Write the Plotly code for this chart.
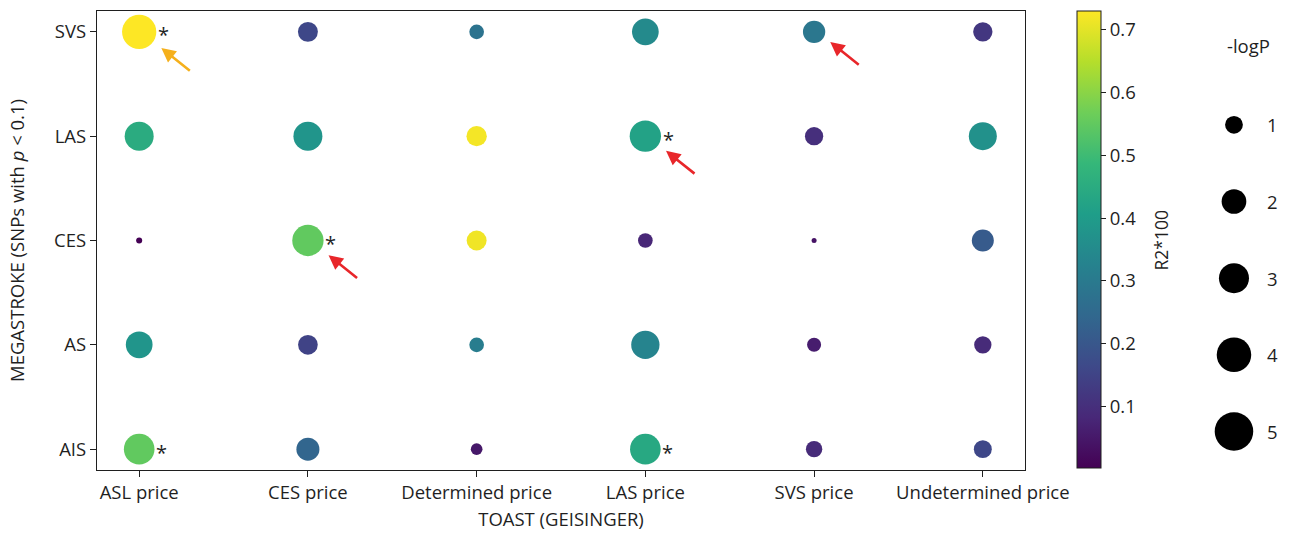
import math
import plotly.graph_objects as go

# TOAST subtypes (columns) and MEGASTROKE phenotypes (rows, top to bottom)
toast = ["ASL price", "CES price", "Determined price", "LAS price", "SVS price", "Undetermined price"]
megastroke = ["SVS", "LAS", "CES", "AS", "AIS"]

# Variance explained (R2*100), one row per MEGASTROKE phenotype
r2x100 = [
    [0.730, 0.160, 0.280, 0.350, 0.290, 0.120],  # SVS
    [0.450, 0.380, 0.720, 0.420, 0.100, 0.370],  # LAS
    [0.002, 0.550, 0.715, 0.080, 0.040, 0.210],  # CES
    [0.380, 0.150, 0.310, 0.330, 0.060, 0.090],  # AS
    [0.550, 0.240, 0.050, 0.440, 0.090, 0.160],  # AIS
]

# -log10(P) of each association
neglogp = [
    [3.94, 1.28, 0.65, 2.36, 1.62, 1.19],  # SVS
    [2.79, 2.79, 1.33, 3.27, 1.06, 2.60],  # LAS
    [0.04, 3.27, 1.28, 0.65, 0.00, 1.57],  # CES
    [2.36, 1.24, 0.65, 2.66, 0.59, 0.94],  # AS
    [3.12, 1.73, 0.38, 3.12, 0.83, 1.02],  # AIS
]

# Significant associations marked with an asterisk
significant = [
    [1, 0, 0, 0, 0, 0],
    [0, 0, 0, 1, 0, 0],
    [0, 1, 0, 0, 0, 0],
    [0, 0, 0, 0, 0, 0],
    [1, 0, 0, 1, 0, 0],
]

# Highlighted associations: (phenotype, subtype, arrow colour)
highlights = [
    ("SVS", "ASL price", "#f5b01c"),
    ("CES", "CES price", "#e8262a"),
    ("LAS", "LAS price", "#e8262a"),
    ("SVS", "SVS price", "#e8262a"),
]

size_legend_values = [1, 2, 3, 4, 5]
cbar_ticks = [0.1, 0.2, 0.3, 0.4, 0.5, 0.6, 0.7]

FONT = "Open Sans"
INK = "#1f1f1f"
TICK_SIZE = 18.5
LABEL_SIZE = 18.5

PAPER_W = 1289 - 97 - 10


def marker_diameter(v):
    # marker area grows linearly with -logP
    return math.sqrt(25 + 292 * v)


xs, ys, cs, ss = [], [], [], []
for i, row in enumerate(megastroke):
    for j, col in enumerate(toast):
        xs.append(col)
        ys.append(row)
        cs.append(r2x100[i][j])
        ss.append(marker_diameter(neglogp[i][j]))

all_r2 = [v for r in r2x100 for v in r]

fig = go.Figure()
fig.add_trace(go.Scatter(
    x=xs, y=ys, mode="markers",
    marker=dict(
        size=ss, sizemode="diameter", color=cs, opacity=1,
        colorscale="Viridis", cmin=min(all_r2), cmax=max(all_r2),
        line=dict(width=0),
        colorbar=dict(
            x=(1077 - 97) / PAPER_W, xanchor="left", xpad=0,
            y=1, yanchor="top", ypad=0,
            len=457, lenmode="pixels", thickness=24,
            outlinewidth=1, outlinecolor=INK,
            tickvals=cbar_ticks, ticks="outside", ticklen=5,
            tickcolor=INK, tickfont=dict(family=FONT, size=TICK_SIZE, color=INK),
        ),
    ),
    showlegend=False, hoverinfo="skip",
))

# Size key for -logP
key_y = [0.752 - 0.167 * k for k in range(len(size_legend_values))]
fig.add_trace(go.Scatter(
    x=[0.746] * len(size_legend_values), y=key_y, mode="markers",
    marker=dict(size=[marker_diameter(v) for v in size_legend_values],
                sizemode="diameter", color="black", opacity=1, line=dict(width=0)),
    xaxis="x2", yaxis="y2", showlegend=False, hoverinfo="skip",
))

annotations = []
for v, yy in zip(size_legend_values, key_y):
    annotations.append(dict(x=0.966, y=yy, xref="x2", yref="y2", text=str(v),
                            showarrow=False, font=dict(family=FONT, size=TICK_SIZE, color=INK)))
annotations.append(dict(x=0.83, y=0.924, xref="x2", yref="y2", text="-logP",
                        showarrow=False, font=dict(family=FONT, size=LABEL_SIZE, color=INK)))

# Colour bar title
annotations.append(dict(x=(1174 - 97) / PAPER_W, y=0.5, xref="paper", yref="paper",
                        text="R2*100", textangle=-90, showarrow=False,
                        font=dict(family=FONT, size=17.5, color=INK)))

# Asterisks for significant associations
for i, row in enumerate(megastroke):
    for j, col in enumerate(toast):
        if significant[i][j]:
            d = marker_diameter(neglogp[i][j])
            annotations.append(dict(x=col, y=row, xref="x", yref="y", text="*",
                                    showarrow=False, xanchor="center", yanchor="middle",
                                    xshift=d / 2 + 7, yshift=-3,
                                    font=dict(family=FONT, size=20, color=INK)))

# Arrows pointing at highlighted associations
for row, col, colour in highlights:
    i, j = megastroke.index(row), toast.index(col)
    d = marker_diameter(neglogp[i][j])
    annotations.append(dict(x=col, y=row, xref="x", yref="y", text="",
                            showarrow=True, arrowhead=2, arrowsize=1.1, arrowwidth=2.6,
                            arrowcolor=colour, ax=30, ay=24,
                            xshift=d / 2 + 5, yshift=-d / 2 + 1))

axis_common = dict(
    showline=True, linecolor=INK, linewidth=1.3, mirror=True,
    ticks="outside", ticklen=6, tickcolor=INK, tickwidth=1.2,
    showgrid=False, zeroline=False,
    tickfont=dict(family=FONT, size=TICK_SIZE, color=INK),
)

fig.update_layout(
    width=1289, height=533,
    margin=dict(l=97, r=10, t=11, b=63, autoexpand=False),
    plot_bgcolor="white", paper_bgcolor="white",
    font=dict(family=FONT, color=INK),
    xaxis=dict(domain=[0, 928 / PAPER_W], type="category",
               categoryorder="array", categoryarray=toast,
               range=[-0.25, 5.25],
               title=dict(text="TOAST (GEISINGER)", standoff=9,
                          font=dict(family=FONT, size=LABEL_SIZE, color=INK)),
               **axis_common),
    yaxis=dict(type="category", categoryorder="array",
               categoryarray=list(reversed(megastroke)),
               range=[-0.2, 4.2],
               title=dict(text="MEGASTROKE (SNPs with <i>p</i> &lt; 0.1)", standoff=24,
                          font=dict(family=FONT, size=LABEL_SIZE, color=INK)),
               **axis_common),
    xaxis2=dict(domain=[0.85, 1.0], range=[0, 1], visible=False, anchor="y2"),
    yaxis2=dict(domain=[0, 1], range=[0, 1], visible=False, anchor="x2"),
    annotations=annotations,
)

fig.write_html("out.html")
